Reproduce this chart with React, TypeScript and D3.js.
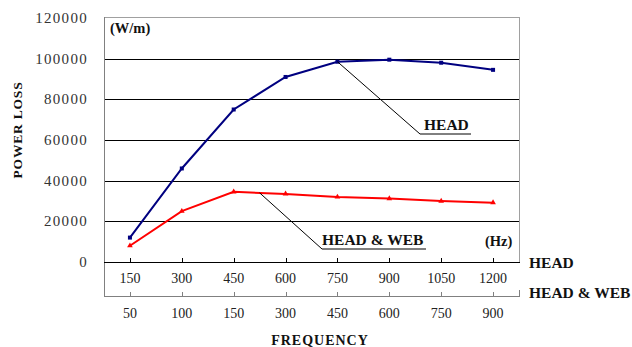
import React from "react";
import * as d3 from "d3";

const headFreq = ["150", "300", "450", "600", "750", "900", "1050", "1200"];
const webFreq = ["50", "100", "150", "300", "450", "600", "750", "900"];
const headLoss = [12000, 46000, 75000, 91000, 98500, 99500, 98000, 94500];
const webLoss = [8000, 25000, 34500, 33500, 32000, 31200, 30000, 29200];
const yTicks = [0, 20000, 40000, 60000, 80000, 100000, 120000];

const W = 632;
const H = 347;
const L = 104, R = 519, T = 17, B = 262, B2 = 296;

export default function App() {
  const x = d3.scaleBand<number>().domain(d3.range(headFreq.length)).range([L, R]).padding(0);
  const cx = (i: number) => (x(i) as number) + x.bandwidth() / 2;
  const y = d3.scaleLinear().domain([0, 120000]).range([B, T + 1]);
  const line = d3.line<number>().x((_, i) => cx(i)).y((d) => y(d));
  const serif = "'Liberation Serif', 'Times New Roman', serif";

  const hx = cx(4), hy = y(headLoss[4]);
  const wx = (cx(2) + cx(3)) / 2, wy = y((webLoss[2] + webLoss[3]) / 2);

  return (
    <svg width={W} height={H} style={{ position: "absolute", left: 0, top: 0, background: "#fff" }}>
      {yTicks.filter((t) => t > 0 && t < 120000).map((t) => (
        <line key={t} x1={L} x2={R} y1={Math.round(y(t)) + 0.5} y2={Math.round(y(t)) + 0.5} stroke="#000" strokeWidth={1} />
      ))}
      <line x1={L} x2={R} y1={T + 0.5} y2={T + 0.5} stroke="#a0a0a0" />
      <line x1={R + 0.5} x2={R + 0.5} y1={T} y2={B} stroke="#a0a0a0" />
      <line x1={L + 0.5} x2={L + 0.5} y1={T} y2={B2 + 1} stroke="#808080" />
      <line x1={L} x2={R + 1} y1={B + 0.5} y2={B + 0.5} stroke="#000" />
      <line x1={L} x2={R + 1} y1={B2 + 0.5} y2={B2 + 0.5} stroke="#808080" />
      {headFreq.map((_, i) => (
        <g key={i}>
          <line x1={Math.round(cx(i)) + 0.5} x2={Math.round(cx(i)) + 0.5} y1={B - 4} y2={B} stroke="#000" />
          <line x1={Math.round(cx(i)) + 0.5} x2={Math.round(cx(i)) + 0.5} y1={B2 - 4} y2={B2} stroke="#808080" />
        </g>
      ))}
      <line x1={R + 0.5} x2={R + 0.5} y1={B2 - 6} y2={B2} stroke="#808080" />
      {yTicks.map((t) => (
        <text key={t} x={88} y={y(t) + 5} textAnchor="end" fontFamily={serif} fontSize={15} letterSpacing={1.3} fill="#333">
          {t}
        </text>
      ))}
      {headFreq.map((s, i) => (
        <text key={"h" + s} x={cx(i)} y={283} textAnchor="middle" fontFamily={serif} fontSize={14} fill="#222">{s}</text>
      ))}
      {webFreq.map((s, i) => (
        <text key={"w" + s + i} x={cx(i)} y={318} textAnchor="middle" fontFamily={serif} fontSize={14} fill="#222">{s}</text>
      ))}
      <text x={529} y={268} fontFamily={serif} fontSize={15.5} fontWeight="bold" fill="#111">HEAD</text>
      <text x={529} y={298} fontFamily={serif} fontSize={15.5} fontWeight="bold" fill="#111">HEAD &amp; WEB</text>
      <path d={line(headLoss) || ""} fill="none" stroke="#000080" strokeWidth={2} />
      <path d={line(webLoss) || ""} fill="none" stroke="#ff0000" strokeWidth={2} />
      {headLoss.map((v, i) => (
        <rect key={i} x={cx(i) - 2} y={y(v) - 2} width={4} height={4} fill="#000080" />
      ))}
      {webLoss.map((v, i) => (
        <path key={i} d={d3.symbol(d3.symbolTriangle, 14)() || ""} transform={`translate(${cx(i)},${y(v)})`} fill="#ff0000" />
      ))}
      <polyline points={`${hx},${hy} ${420},${134} ${471},${134}`} fill="none" stroke="#000" strokeWidth={1} />
      <polyline points={`${wx},${wy} ${322},${249} ${426},${249}`} fill="none" stroke="#000" strokeWidth={1} />
      <text x={424} y={130} fontFamily={serif} fontSize={15.5} fontWeight="bold" fill="#111">HEAD</text>
      <text x={322} y={245} fontFamily={serif} fontSize={15.5} fontWeight="bold" fill="#111">HEAD &amp; WEB</text>
      <text x={485} y={246} fontFamily={serif} fontSize={14.5} fontWeight="bold" fill="#111">(Hz)</text>
      <text x={110} y={33} fontFamily={serif} fontSize={14.5} fontWeight="bold" fill="#111">(W/m)</text>
      <text x={320} y={345} textAnchor="middle" fontFamily={serif} fontSize={14} fontWeight="bold" letterSpacing={1} fill="#111">FREQUENCY</text>
      <text transform="translate(22,130) rotate(-90)" textAnchor="middle" fontFamily={serif} fontSize={13.5} fontWeight="bold" letterSpacing={0.8} fill="#111">POWER LOSS</text>
    </svg>
  );
}
